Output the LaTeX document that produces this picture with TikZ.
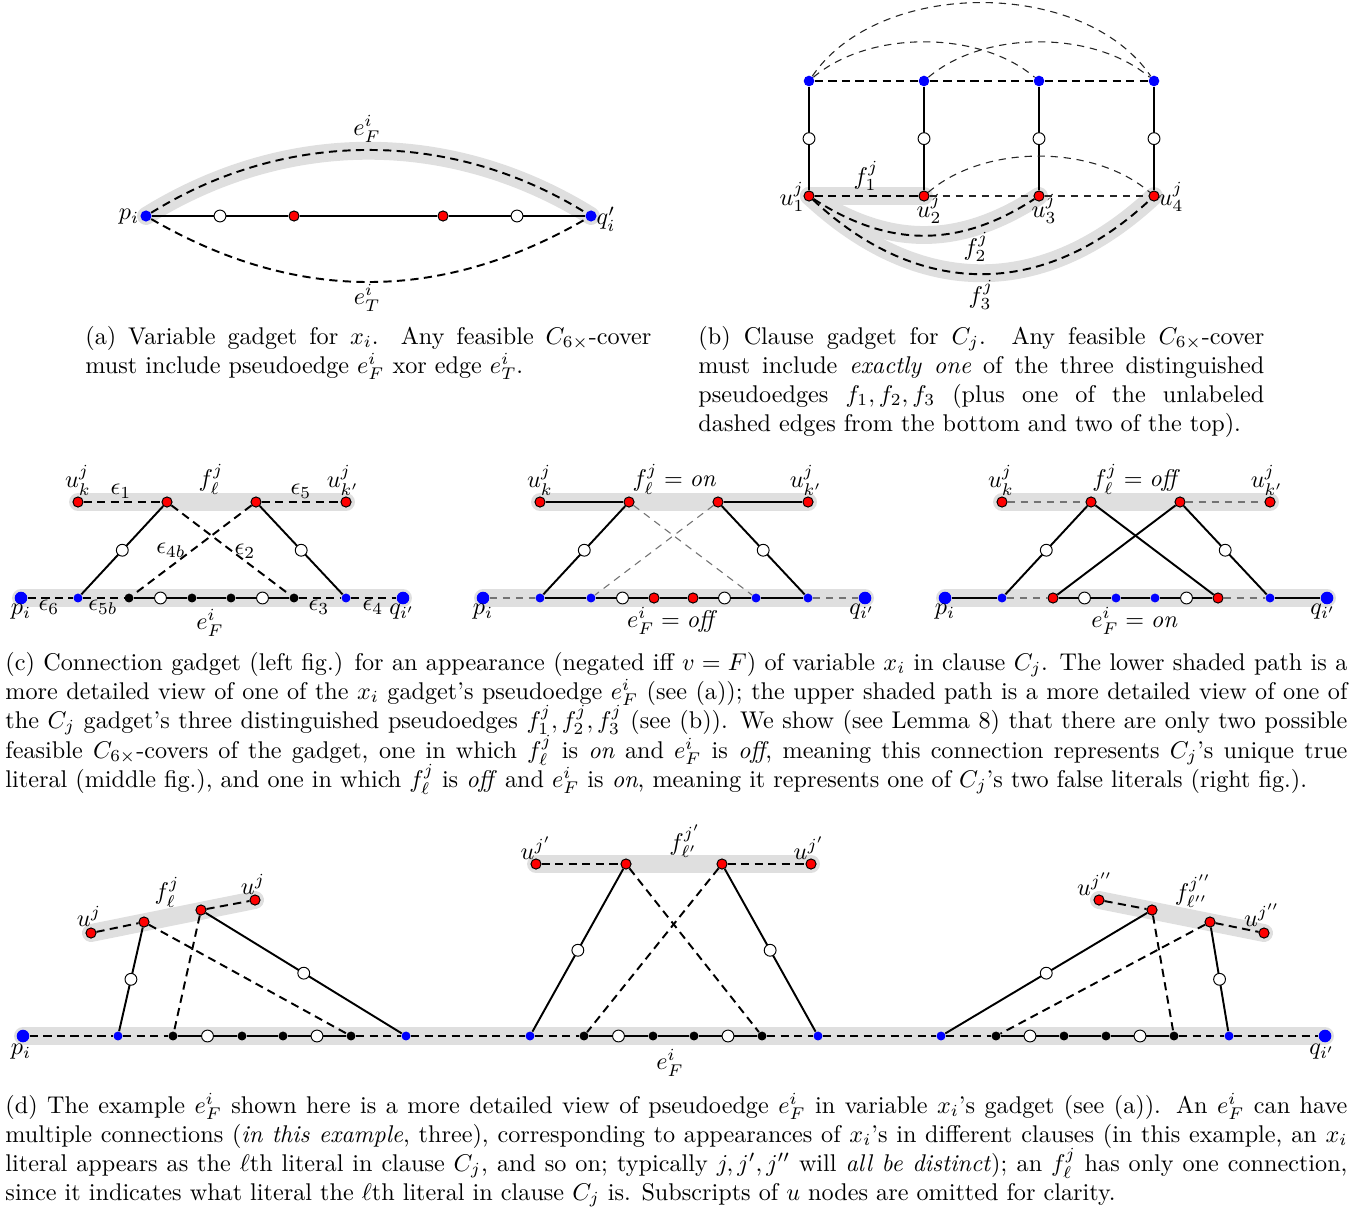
\documentclass[tikz,border=0pt]{standalone}
\usetikzlibrary{calc}
\pgfdeclarelayer{bg}
\pgfsetlayers{bg,main}
\tikzset{
  bandline/.style={line width=7.4pt, draw=gray!25, line cap=round},
  tdash/.style={line width=0.8pt, dash pattern=on 3.4pt off 2.2pt},
  ldash/.style={line width=0.45pt, dash pattern=on 3pt off 2.4pt, draw=black!85},
  gdash/.style={line width=0.45pt, dash pattern=on 3pt off 2.4pt, draw=black!55},
  sedge/.style={line width=0.8pt},
  reddot/.style={circle, draw=black, line width=0.4pt, fill=red, inner sep=0pt, minimum size=4.2pt},
  bluedot/.style={circle, fill=blue, inner sep=0pt, minimum size=3.7pt},
  bluemid/.style={circle, fill=blue, inner sep=0pt, minimum size=4.4pt},
  bigblue/.style={circle, fill=blue, inner sep=0pt, minimum size=5.2pt},
  blackdot/.style={circle, fill=black, inner sep=0pt, minimum size=3.7pt},
  ocirc/.style={circle, draw=black, line width=0.4pt, fill=white, inner sep=0pt, minimum size=4.9pt},
  lbl/.style={inner sep=0pt},
  captxt/.style={anchor=base west, inner sep=0pt},
}
\newcommand\cgnodes[6]{%
  \node[reddot] (#1uk) at ({78+#2},502) {};
  \node[reddot] (#1ra) at ({167+#2},502) {};
  \node[reddot] (#1rb) at ({256+#2},502) {};
  \node[reddot] (#1ukp) at ({346+#2},502) {};
  \node[bigblue] (#1p) at ({21+#2},598) {};
  \node[bluedot] (#1ba) at ({78+#2},598) {};
  \node[#3] (#1ka) at ({129+#2},598) {};
  \node[ocirc] (#1ca) at ({160.5+#2},598) {};
  \node[#4] (#1kb) at ({192+#2},598) {};
  \node[#5] (#1kc) at ({231+#2},598) {};
  \node[ocirc] (#1cb) at ({262.5+#2},598) {};
  \node[#6] (#1kd) at ({294+#2},598) {};
  \node[bluedot] (#1bb) at ({346+#2},598) {};
  \node[bigblue] (#1q) at ({403+#2},598) {};
  \begin{pgfonlayer}{bg}
    \draw[bandline] (#1uk.center) -- (#1ukp.center);
    \draw[bandline] (#1p.center) -- (#1q.center);
  \end{pgfonlayer}
}
\begin{document}
\begin{tikzpicture}[x=0.4135pt, y=-0.4135pt]
\useasboundingbox (0,0) rectangle (1363,1209);

% ---------------- (a) ----------------
\node[bigblue, minimum size=4.6pt] (aP) at (146,216) {};
\node[ocirc] (aO1) at (220,216) {};
\node[reddot] (aR1) at (294,216) {};
\node[reddot] (aR2) at (443,216) {};
\node[ocirc] (aO2) at (517,216) {};
\node[bigblue, minimum size=4.6pt] (aQ) at (591,216) {};
\begin{pgfonlayer}{bg}
  \draw[bandline] (aP.center) .. controls +(140,-87) and +(-140,-87) .. (aQ.center);
\end{pgfonlayer}
\draw[sedge] (aP) -- (aO1) -- (aR1) -- (aR2) -- (aO2) -- (aQ);
\draw[tdash] (aP) .. controls +(140,-87) and +(-140,-87) .. (aQ);
\draw[tdash] (aP) .. controls +(150,87) and +(-150,87) .. (aQ);
\node[lbl] (laP) at (129,217) {$p_i$};
\node[lbl] (laQ) at (606,219) {$q'_i$};
\node[lbl] (laF) at (367,129) {$e^i_F$};
\node[lbl] (laT) at (367,298) {$e^i_T$};

% ---------------- (b) ----------------
\foreach \n/\x in {1/809,2/924,3/1039,4/1154}{
  \node[bluemid] (bD\n) at (\x,81) {};
  \node[reddot] (bU\n) at (\x,196) {};
  \draw[sedge] (bD\n) -- node[ocirc] (bC\n) {} (bU\n);
}
\begin{pgfonlayer}{bg}
  \draw[bandline] (bU1.center) -- (bU2.center);
  \draw[bandline] (bU1.center) .. controls +(80,52) and +(-80,52) .. (bU3.center);
  \draw[bandline] (bU1.center) .. controls +(110,103) and +(-110,103) .. (bU4.center);
\end{pgfonlayer}
\draw[tdash] (bD1) -- (bD2) -- (bD3) -- (bD4);
\draw[ldash] (bD1) .. controls +(70,-103) and +(-70,-103) .. (bD4);
\draw[ldash] (bD1) .. controls +(60,-51) and +(-60,-51) .. (bD3);
\draw[ldash] (bD2) .. controls +(60,-51) and +(-60,-51) .. (bD4);
\draw[tdash] (bU1) -- (bU2);
\draw[ldash] (bU2) -- (bU3) -- (bU4);
\draw[ldash] (bU2) .. controls +(60,-52) and +(-60,-52) .. (bU4);
\draw[tdash] (bU1) .. controls +(80,52) and +(-80,52) .. (bU3);
\draw[tdash] (bU1) .. controls +(110,103) and +(-110,103) .. (bU4);
\node[lbl] (lbU1) at (792,197) {$u^j_1$};
\node[lbl] (lbU2) at (929,209) {$u^j_2$};
\node[lbl] (lbU3) at (1044,209) {$u^j_3$};
\node[lbl] (lbU4) at (1171,197) {$u^j_4$};
\node[lbl] (lbF1) at (866,176) {$f^j_1$};
\node[lbl] (lbF2) at (976,247) {$f^j_2$};
\node[lbl] (lbF3) at (981,295) {$f^j_3$};

% ---------------- (c) left ----------------
\cgnodes{cl}{0}{blackdot}{blackdot}{blackdot}{blackdot}
\draw[tdash] (cluk) -- (clra);
\draw[tdash] (clrb) -- (clukp);
\draw[sedge] (clra) -- node[ocirc] (clo1) {} (clba);
\draw[sedge] (clrb) -- node[ocirc] (clo2) {} (clbb);
\draw[tdash] (clra) -- (clkd);
\draw[tdash] (clrb) -- (clka);
\draw[tdash] (clp) -- (clba) -- (clka);
\draw[sedge] (clka) -- (clca) -- (clkb) -- (clkc) -- (clcb) -- (clkd);
\draw[tdash] (clkd) -- (clbb) -- (clq);
\node[lbl] (lcl1) at (78,480) {$u^j_k$};
\node[lbl] (lcl2) at (211,479) {$f^j_\ell$};
\node[lbl] (lcl3) at (343,480) {$u^j_{k'}$};
\node[lbl] (lcl4) at (121,491) {$\epsilon_1$};
\node[lbl] (lcl5) at (301,491) {$\epsilon_5$};
\node[lbl] (lcl6) at (171,550) {$\epsilon_{4b}$};
\node[lbl] (lcl7) at (245,551) {$\epsilon_2$};
\node[lbl] (lcl8) at (21,612) {$p_i$};
\node[lbl] (lcl9) at (49,607) {$\epsilon_6$};
\node[lbl] (lcl10) at (103,607) {$\epsilon_{5b}$};
\node[lbl] (lcl11) at (210,623) {$e^i_F$};
\node[lbl] (lcl12) at (319,607) {$\epsilon_3$};
\node[lbl] (lcl13) at (373,607) {$\epsilon_4$};
\node[lbl] (lcl14) at (402,612) {$q_{i'}$};

% ---------------- (c) middle ----------------
\cgnodes{cm}{462}{bluedot}{reddot}{reddot}{bluedot}
\draw[sedge] (cmuk) -- (cmra);
\draw[sedge] (cmrb) -- (cmukp);
\draw[sedge] (cmra) -- node[ocirc] (cmo1) {} (cmba);
\draw[sedge] (cmrb) -- node[ocirc] (cmo2) {} (cmbb);
\draw[gdash] (cmra) -- (cmkd);
\draw[gdash] (cmrb) -- (cmka);
\draw[gdash] (cmp) -- (cmba);
\draw[sedge] (cmba) -- (cmka) -- (cmca) -- (cmkb) -- (cmkc) -- (cmcb) -- (cmkd) -- (cmbb);
\draw[gdash] (cmbb) -- (cmq);
\node[lbl] (lcm1) at (540,480) {$u^j_k$};
\node[lbl] (lcm2) at (675,479) {$f^j_\ell = \mathit{on}$};
\node[lbl] (lcm3) at (806,480) {$u^j_{k'}$};
\node[lbl] (lcm4) at (483,612) {$p_i$};
\node[lbl] (lcm5) at (862,612) {$q_{i'}$};
\node[lbl] (lcm6) at (673,621) {$e^i_F = \mathit{off}$};

% ---------------- (c) right ----------------
\cgnodes{cr}{924}{reddot}{bluedot}{bluedot}{reddot}
\draw[gdash] (cruk) -- (crra);
\draw[gdash] (crrb) -- (crukp);
\draw[sedge] (crra) -- node[ocirc] (cro1) {} (crba);
\draw[sedge] (crrb) -- node[ocirc] (cro2) {} (crbb);
\draw[sedge] (crra) -- (crkd);
\draw[sedge] (crrb) -- (crka);
\draw[sedge] (crp) -- (crba);
\draw[gdash] (crba) -- (crka);
\draw[sedge] (crka) -- (crca) -- (crkb) -- (crkc) -- (crcb) -- (crkd);
\draw[gdash] (crkd) -- (crbb);
\draw[sedge] (crbb) -- (crq);
\node[lbl] (lcr1) at (1001,480) {$u^j_k$};
\node[lbl] (lcr2) at (1137,479) {$f^j_\ell = \mathit{off}$};
\node[lbl] (lcr3) at (1267,480) {$u^j_{k'}$};
\node[lbl] (lcr4) at (945,612) {$p_i$};
\node[lbl] (lcr5) at (1323,612) {$q_{i'}$};
\node[lbl] (lcr6) at (1135,621) {$e^i_F = \mathit{on}$};

% ---------------- (d) ----------------
\node[bigblue] (dP) at (23,1036) {};
\node[bluedot] (dB1) at (118,1036) {};
\node[blackdot] (dK1) at (173,1036) {};
\node[ocirc] (dC1) at (207.5,1036) {};
\node[blackdot] (dK2) at (242,1036) {};
\node[blackdot] (dK3) at (283,1036) {};
\node[ocirc] (dC2) at (317,1036) {};
\node[blackdot] (dK4) at (351,1036) {};
\node[bluedot] (dB2) at (406,1036) {};
\node[bluedot] (dB3) at (530,1036) {};
\node[blackdot] (dK5) at (584,1036) {};
\node[ocirc] (dC3) at (618.5,1036) {};
\node[blackdot] (dK6) at (653,1036) {};
\node[blackdot] (dK7) at (694,1036) {};
\node[ocirc] (dC4) at (728,1036) {};
\node[blackdot] (dK8) at (762,1036) {};
\node[bluedot] (dB4) at (818,1036) {};
\node[bluedot] (dB5) at (941,1036) {};
\node[blackdot] (dK9) at (996,1036) {};
\node[ocirc] (dC5) at (1030,1036) {};
\node[blackdot] (dK10) at (1064,1036) {};
\node[blackdot] (dK11) at (1106,1036) {};
\node[ocirc] (dC6) at (1140,1036) {};
\node[blackdot] (dK12) at (1174,1036) {};
\node[bluedot] (dB6) at (1229,1036) {};
\node[bigblue] (dQ) at (1325,1036) {};
\node[reddot] (dLu1) at (91,933) {};
\node[reddot] (dLr1) at (144,922) {};
\node[reddot] (dLr2) at (201,910) {};
\node[reddot] (dLu2) at (255,900) {};
\node[reddot] (dMu1) at (536,864) {};
\node[reddot] (dMr1) at (626,864) {};
\node[reddot] (dMr2) at (722,864) {};
\node[reddot] (dMu2) at (811,864) {};
\node[reddot] (dRu1) at (1099,900) {};
\node[reddot] (dRr1) at (1152,910) {};
\node[reddot] (dRr2) at (1210,922) {};
\node[reddot] (dRu2) at (1264,933) {};
\begin{pgfonlayer}{bg}
  \draw[bandline] (dP.center) -- (dQ.center);
  \draw[bandline] (dLu1.center) -- (dLu2.center);
  \draw[bandline] (dMu1.center) -- (dMu2.center);
  \draw[bandline] (dRu1.center) -- (dRu2.center);
\end{pgfonlayer}
\draw[tdash] (dP) -- (dB1) -- (dK1);
\draw[sedge] (dK1) -- (dC1) -- (dK2) -- (dK3) -- (dC2) -- (dK4);
\draw[tdash] (dK4) -- (dB2) -- (dB3) -- (dK5);
\draw[sedge] (dK5) -- (dC3) -- (dK6) -- (dK7) -- (dC4) -- (dK8);
\draw[tdash] (dK8) -- (dB4) -- (dB5) -- (dK9);
\draw[sedge] (dK9) -- (dC5) -- (dK10) -- (dK11) -- (dC6) -- (dK12);
\draw[tdash] (dK12) -- (dB6) -- (dQ);
\draw[tdash] (dLu1) -- (dLr1);
\draw[tdash] (dLr2) -- (dLu2);
\draw[sedge] (dLr1) -- node[ocirc] (dO1) {} (dB1);
\draw[sedge] (dLr2) -- node[ocirc] (dO2) {} (dB2);
\draw[tdash] (dLr1) -- (dK4);
\draw[tdash] (dLr2) -- (dK1);
\draw[tdash] (dMu1) -- (dMr1);
\draw[tdash] (dMr2) -- (dMu2);
\draw[sedge] (dMr1) -- node[ocirc] (dO3) {} (dB3);
\draw[sedge] (dMr2) -- node[ocirc] (dO4) {} (dB4);
\draw[tdash] (dMr1) -- (dK8);
\draw[tdash] (dMr2) -- (dK5);
\draw[tdash] (dRu1) -- (dRr1);
\draw[tdash] (dRr2) -- (dRu2);
\draw[sedge] (dRr1) -- node[ocirc] (dO5) {} (dB5);
\draw[sedge] (dRr2) -- node[ocirc] (dO6) {} (dB6);
\draw[tdash] (dRr1) -- (dK12);
\draw[tdash] (dRr2) -- (dK9);
\node[lbl] (ld1) at (89,916) {$u^j$};
\node[lbl] (ld2) at (167,892) {$f^j_\ell$};
\node[lbl] (ld3) at (253,884) {$u^j$};
\node[lbl] (ld4) at (536,848) {$u^{j'}$};
\node[lbl] (ld5) at (685,841) {$f^{j'}_{\ell'}$};
\node[lbl] (ld6) at (809,848) {$u^{j'}$};
\node[lbl] (ld7) at (1095,884) {$u^{j''}$};
\node[lbl] (ld8) at (1193,891) {$f^{j''}_{\ell''}$};
\node[lbl] (ld9) at (1262,915) {$u^{j''}$};
\node[lbl] (ld10) at (21,1052) {$p_i$};
\node[lbl] (ld11) at (1322,1052) {$q_{i'}$};
\node[lbl] (ld12) at (670,1063) {$e^i_F$};

% ---------------- captions ----------------
\node[captxt] (capA1) at (85,344) {\makebox[234pt][s]{(a) Variable gadget for $x_i$.  Any feasible $C_{6\times}$-cover}};
\node[captxt] (capA2) at (85,373) {must include pseudoedge $e^i_F$ xor edge $e^i_T$.};
\node[captxt] (capB1) at (698,344) {\makebox[234pt][s]{(b) Clause gadget for $C_j$.  Any feasible $C_{6\times}$-cover}};
\node[captxt] (capB2) at (698,373) {\makebox[234pt][s]{must include \emph{exactly one} of the three distinguished}};
\node[captxt] (capB3) at (698,402) {\makebox[234pt][s]{pseudoedges $f_1, f_2, f_3$ (plus one of the unlabeled}};
\node[captxt] (capB4) at (698,431) {dashed edges from the bottom and two of the top).};
\node[captxt] (capC1) at (5,670) {\makebox[554.9pt][s]{(c) Connection gadget (left fig.) for an appearance (negated iff $v = F$) of variable $x_i$ in clause $C_j$. The lower shaded path is a}};
\node[captxt] (capC2) at (5,699) {\makebox[554.9pt][s]{more detailed view of one of the $x_i$ gadget's pseudoedge $e^i_F$ (see (a)); the upper shaded path is a more detailed view of one of}};
\node[captxt] (capC3) at (5,728) {\makebox[554.9pt][s]{the $C_j$ gadget's three distinguished pseudoedges $f^j_1, f^j_2, f^j_3$ (see (b)). We show (see Lemma 8) that there are only two possible}};
\node[captxt] (capC4) at (5,758) {\makebox[554.9pt][s]{feasible $C_{6\times}$-covers of the gadget, one in which $f^j_\ell$ is \emph{on} and $e^i_F$ is \emph{off}, meaning this connection represents $C_j$'s unique true}};
\node[captxt] (capC5) at (5,787) {literal (middle fig.), and one in which $f^j_\ell$ is \emph{off} and $e^i_F$ is \emph{on}, meaning it represents one of $C_j$'s two false literals (right fig.).};
\node[captxt] (capD1) at (5,1113) {\makebox[554.9pt][s]{(d) The example $e^i_F$ shown here is a more detailed view of pseudoedge $e^i_F$ in variable $x_i$'s gadget (see (a)). An $e^i_F$ can have}};
\node[captxt] (capD2) at (5,1142) {\makebox[554.9pt][s]{multiple connections (\emph{in this example}, three), corresponding to appearances of $x_i$'s in different clauses (in this example, an $x_i$}};
\node[captxt] (capD3) at (5,1171) {\makebox[554.9pt][s]{literal appears as the $\ell$th literal in clause $C_j$, and so on; typically $j, j', j''$ will \emph{all be distinct}); an $f^j_\ell$ has only one connection,}};
\node[captxt] (capD4) at (5,1200) {since it indicates what literal the $\ell$th literal in clause $C_j$ is. Subscripts of $u$ nodes are omitted for clarity.};
\end{tikzpicture}
\end{document}
